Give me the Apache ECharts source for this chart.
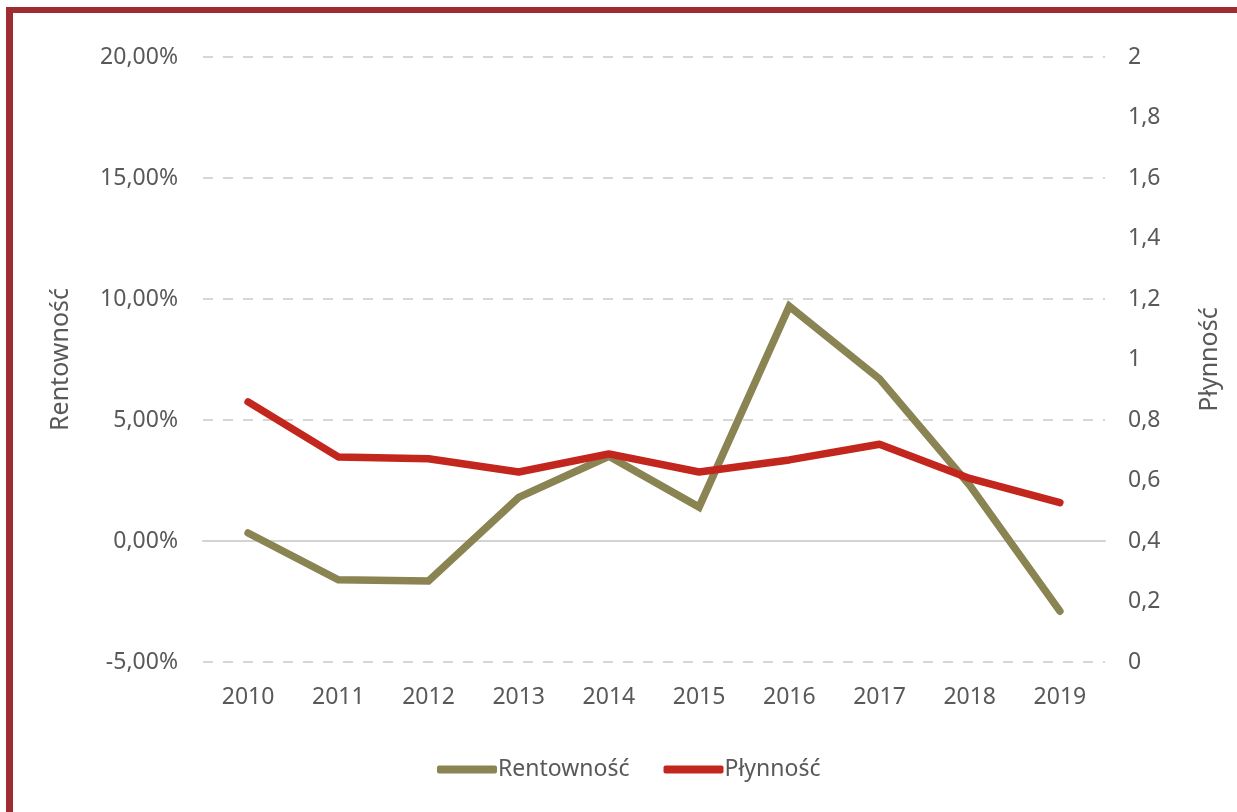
<!DOCTYPE html>
<html>
<head>
<meta charset="utf-8">
<script src="https://cdn.jsdelivr.net/npm/echarts@6/dist/echarts.min.js"></script>
<style>
  html, body { margin: 0; padding: 0; background: #fff; }
  #wrap { position: relative; width: 1237px; height: 812px; overflow: hidden; background: #fff; }
  #chart { position: absolute; left: 0; top: 0; width: 1237px; height: 812px; }
  .frameTop { position: absolute; left: 6px; top: 7px; width: 1300px; height: 6px; background: #9d2c33; }
  .frameLeft { position: absolute; left: 6px; top: 7px; width: 7px; height: 900px; background: #9d2c33; }
</style>
</head>
<body>
<div id="wrap">
  <div id="chart"></div>
  <div class="frameTop"></div>
  <div class="frameLeft"></div>
</div>
<script>
const years = ['2010','2011','2012','2013','2014','2015','2016','2017','2018','2019'];
const rentownosc = [0.33, -1.6, -1.65, 1.8, 3.5, 1.4, 9.7, 6.7, 2.3, -2.9];
const plynnosc = [0.86, 0.678, 0.672, 0.628, 0.688, 0.628, 0.668, 0.72, 0.607, 0.527];
const leftAxisName = 'Rentowność';
const rightAxisName = 'Płynność';

const FONT = '"Noto Sans", "Open Sans", sans-serif';
const TXT = '#595959';
const FS = 23;

const chart = echarts.init(document.getElementById('chart'), null, { renderer: 'canvas' });
chart.setOption({
  backgroundColor: 'transparent',
  animation: false,
  textStyle: { fontFamily: FONT },
  grid: { left: 203, right: 132, top: 57, bottom: 150, containLabel: false },
  legend: {
    left: 432, top: 753,
    itemWidth: 60, itemHeight: 8, itemGap: 34,
    icon: 'roundRect',
    textStyle: { color: TXT, fontSize: FS, fontFamily: FONT, padding: [0, 0, 0, -4] },
    data: [leftAxisName, rightAxisName]
  },
  xAxis: {
    type: 'category',
    data: years,
    boundaryGap: true,
    axisLine: { show: true, onZero: true, onZeroAxisIndex: 0, lineStyle: { color: '#d3d3d3', width: 2 } },
    axisTick: { show: false },
    axisLabel: { color: TXT, fontSize: FS, fontFamily: FONT, margin: 24 }
  },
  yAxis: [
    {
      type: 'value', min: -5, max: 20, interval: 5, position: 'left',
      name: leftAxisName, nameLocation: 'middle', nameRotate: 90, nameGap: 130,
      nameTextStyle: { color: TXT, fontSize: 25, fontFamily: FONT },
      axisLine: { show: false }, axisTick: { show: false },
      axisLabel: { color: TXT, fontSize: FS, fontFamily: FONT, margin: 25,
        formatter: v => v.toFixed(2).replace('.', ',') + '%' },
      splitLine: { show: true, lineStyle: { color: '#d6d6d6', width: 2, type: [10, 10] } }
    },
    {
      type: 'value', min: 0, max: 2, interval: 0.2, position: 'right',
      name: rightAxisName, nameLocation: 'middle', nameRotate: 90, nameGap: 92,
      nameTextStyle: { color: TXT, fontSize: 25, fontFamily: FONT },
      axisLine: { show: false }, axisTick: { show: false },
      axisLabel: { color: TXT, fontSize: FS, fontFamily: FONT, margin: 23,
        formatter: v => String(Math.round(v * 10) / 10).replace('.', ',') },
      splitLine: { show: false }
    }
  ],
  series: [
    {
      name: leftAxisName, type: 'line', yAxisIndex: 0, data: rentownosc,
      showSymbol: false, symbol: 'none',
      lineStyle: { color: '#8a8352', width: 7.5, cap: 'round', join: 'miter' },
      itemStyle: { color: '#8a8352' }, z: 2
    },
    {
      name: rightAxisName, type: 'line', yAxisIndex: 1, data: plynnosc,
      showSymbol: false, symbol: 'none',
      lineStyle: { color: '#c3261c', width: 7.5, cap: 'round', join: 'round' },
      itemStyle: { color: '#c3261c' }, z: 3
    }
  ]
});
</script>
</body>
</html>
